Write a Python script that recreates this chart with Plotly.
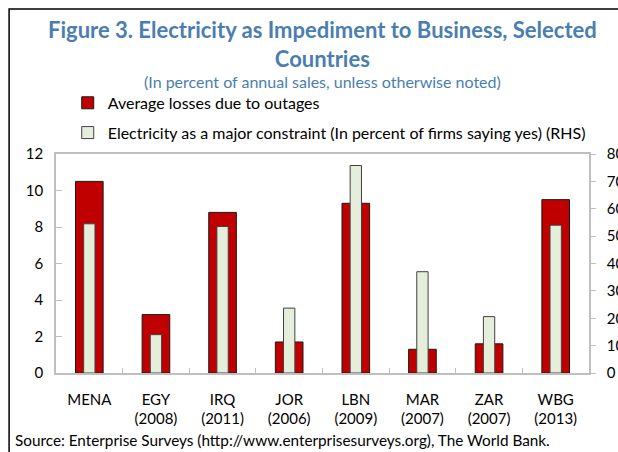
import plotly.graph_objects as go

countries = ["MENA", "EGY<br>(2008)", "IRQ<br>(2011)", "JOR<br>(2006)", "LBN<br>(2009)",
             "MAR<br>(2007)", "ZAR<br>(2007)", "WBG<br>(2013)"]
losses = [10.5, 3.2, 8.8, 1.7, 9.3, 1.3, 1.6, 9.5]
constraint = [54.5, 14, 53.5, 23.7, 75.8, 37, 20.6, 54]

left_ticks = [0, 2, 4, 6, 8, 10, 12]
right_ticks = [0, 10, 20, 30, 40, 50, 60, 70, 80]

FONT = "Lato"
BLUE = "#4a7eb0"
AXIS = "#bfbfbf"

fig = go.Figure()
fig.add_trace(go.Bar(
    x=countries, y=losses, name="Average losses due to outages",
    width=0.415, offset=-0.2075,
    marker=dict(color="#c00000", line=dict(color="#1a1a1a", width=1)),
    legend="legend",
))
fig.add_trace(go.Bar(
    x=countries, y=constraint, yaxis="y2",
    name="Electricity as a major constraint (In percent of firms saying yes) (RHS)",
    width=0.17, offset=-0.085,
    marker=dict(color="#e5eedb", line=dict(color="#404040", width=1)),
    legend="legend2",
))

fig.update_layout(
    width=618, height=452,
    margin=dict(l=56, r=29, t=154, b=79, autoexpand=False),
    paper_bgcolor="white", plot_bgcolor="white",
    font=dict(family=FONT, size=15, color="black"),
    barmode="overlay",
    showlegend=True,
    legend=dict(x=0.022, y=1.311, xanchor="left", yanchor="top",
                bgcolor="rgba(0,0,0,0)", itemwidth=30,
                font=dict(family=FONT, size=16)),
    legend2=dict(x=0.022, y=1.175, xanchor="left", yanchor="top",
                 bgcolor="rgba(0,0,0,0)", itemwidth=30,
                 font=dict(family=FONT, size=16)),
    xaxis=dict(showline=True, linecolor=AXIS, linewidth=1.5, mirror=True,
               ticks="inside", tickson="boundaries", ticklen=5, tickcolor=AXIS,
               tickfont=dict(size=15), showgrid=False, ticklabelstandoff=12),
    yaxis=dict(range=[0, 12], tickvals=left_ticks, showline=True, linecolor=AXIS,
               linewidth=1.5, ticks="inside", ticklen=6, tickcolor=AXIS,
               showgrid=False, zeroline=False, tickfont=dict(size=15),
               ticklabelstandoff=8),
    yaxis2=dict(range=[0, 80], tickvals=right_ticks, overlaying="y", side="right",
                showline=True, linecolor=AXIS, linewidth=1.5, ticks="outside",
                ticklen=5, tickcolor=AXIS, showgrid=False, zeroline=False,
                tickfont=dict(size=15), ticklabelstandoff=8),
    annotations=[
        dict(text="<b>Figure 3. Electricity as Impediment to Business, Selected<br>Countries</b>",
             xref="paper", yref="paper", x=0.5, y=1.64, xanchor="center", yanchor="top",
             showarrow=False, font=dict(family=FONT, size=22, color=BLUE)),
        dict(text="(In percent of annual sales, unless otherwise noted)",
             xref="paper", yref="paper", x=0.5, y=1.329, xanchor="center", yanchor="middle",
             showarrow=False, font=dict(family=FONT, size=16, color=BLUE)),
        dict(text="Source: Enterprise Surveys (http://www.enterprisesurveys.org), The World Bank.",
             xref="paper", yref="paper", x=-0.081, y=-0.306, xanchor="left", yanchor="middle",
             showarrow=False, font=dict(family=FONT, size=15.3, color="black")),
    ],
    shapes=[
        dict(type="rect", xref="paper", yref="paper", x0=-0.088, x1=1.2, y0=-0.6, y1=1.662,
             line=dict(color="black", width=1.5)),
    ],
)

# drop the browser's default 8px body margin so the figure fills the window
fig.write_html("out.html", config={"displayModeBar": False},
               post_script="document.body.style.margin='0';document.body.style.overflow='hidden';")
